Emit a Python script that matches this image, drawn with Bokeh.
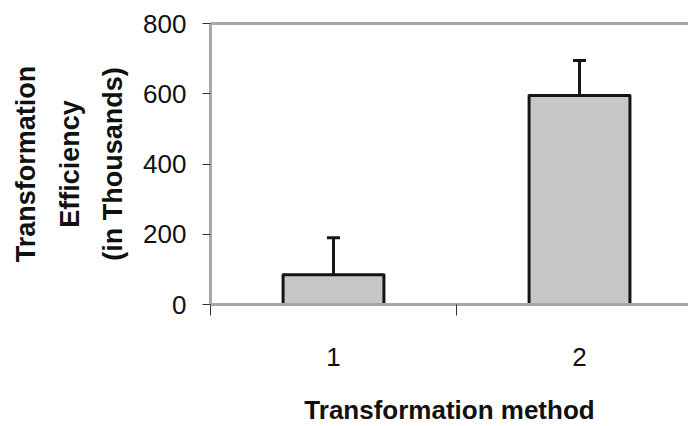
from bokeh.plotting import figure
from bokeh.models import Range1d, FixedTicker, LinearAxis, Whisker, ColumnDataSource
from bokeh.embed import file_html
from bokeh.resources import INLINE

methods = ["1", "2"]
efficiency = [85, 595]
error_up = [105, 100]
y_ticks = [0, 200, 400, 600, 800]

xs = [i + 0.5 for i in range(len(methods))]
upper = [v + e for v, e in zip(efficiency, error_up)]
src = ColumnDataSource(dict(x=xs, top=efficiency, upper=upper))

GRAY = "#a7a7a7"
FONT = "Liberation Sans"

p = figure(width=688, height=427, output_backend="svg", toolbar_location=None,
           x_range=Range1d(0, 1.943), y_range=Range1d(0, 800),
           min_border_left=210, min_border_right=0, min_border_top=23, min_border_bottom=0)
p.grid.visible = False
p.outline_line_color = None
p.background_fill_color = "white"

p.vbar(x="x", top="top", bottom=0, width=0.41, source=src,
       fill_color="#c6c7c9", line_color="#151515", line_width=3, line_join="round")
w = Whisker(base="x", lower="top", upper="upper", source=src,
            line_color="#151515", line_width=3, lower_head=None)
w.upper_head.size = 13
w.upper_head.line_width = 3
w.upper_head.line_color = "#151515"
p.add_layout(w)

# x axis
xa = p.xaxis[0]
xa.ticker = FixedTicker(ticks=xs, minor_ticks=[0, 1, 2])
xa.major_label_overrides = {x: m for x, m in zip(xs, methods)}
xa.major_tick_line_color = None
xa.major_tick_out = 0
xa.major_tick_in = 0
xa.minor_tick_out = 11
xa.minor_tick_in = 0
xa.minor_tick_line_color = "#333333"
xa.axis_line_color = GRAY
xa.axis_line_width = 3
xa.major_label_text_font = FONT
xa.major_label_text_font_size = "26px"
xa.major_label_text_color = "#111111"
xa.major_label_standoff = 32
xa.axis_label = "Transformation method"
xa.axis_label_text_font = FONT
xa.axis_label_text_font_style = "bold"
xa.axis_label_text_font_size = "26px"
xa.axis_label_text_color = "#111111"
xa.axis_label_standoff = 26

# y axis
ya = p.yaxis[0]
ya.ticker = FixedTicker(ticks=y_ticks)
ya.minor_tick_line_color = None
ya.major_tick_out = 8
ya.major_tick_in = 0
ya.major_tick_line_color = "#333333"
ya.axis_line_color = GRAY
ya.axis_line_width = 3
ya.major_label_text_font = FONT
ya.major_label_text_font_size = "26px"
ya.major_label_text_color = "#111111"
ya.major_label_standoff = 16
ya.axis_label = "Transformation\nEfficiency\n(in Thousands)"
ya.axis_label_text_font = FONT
ya.axis_label_text_font_style = "bold"
ya.axis_label_text_font_size = "27px"
ya.axis_label_text_color = "#111111"
ya.axis_label_text_line_height = 1.45
ya.axis_label_standoff = 12

# top line
top = LinearAxis(ticker=FixedTicker(ticks=[]), axis_line_color=GRAY, axis_line_width=3,
                 major_tick_line_color=None, minor_tick_line_color=None,
                 major_tick_out=0, major_tick_in=0,
                 major_label_text_font_size="0px")
p.add_layout(top, "above")

open("out.html", "w").write(file_html(p, INLINE))
